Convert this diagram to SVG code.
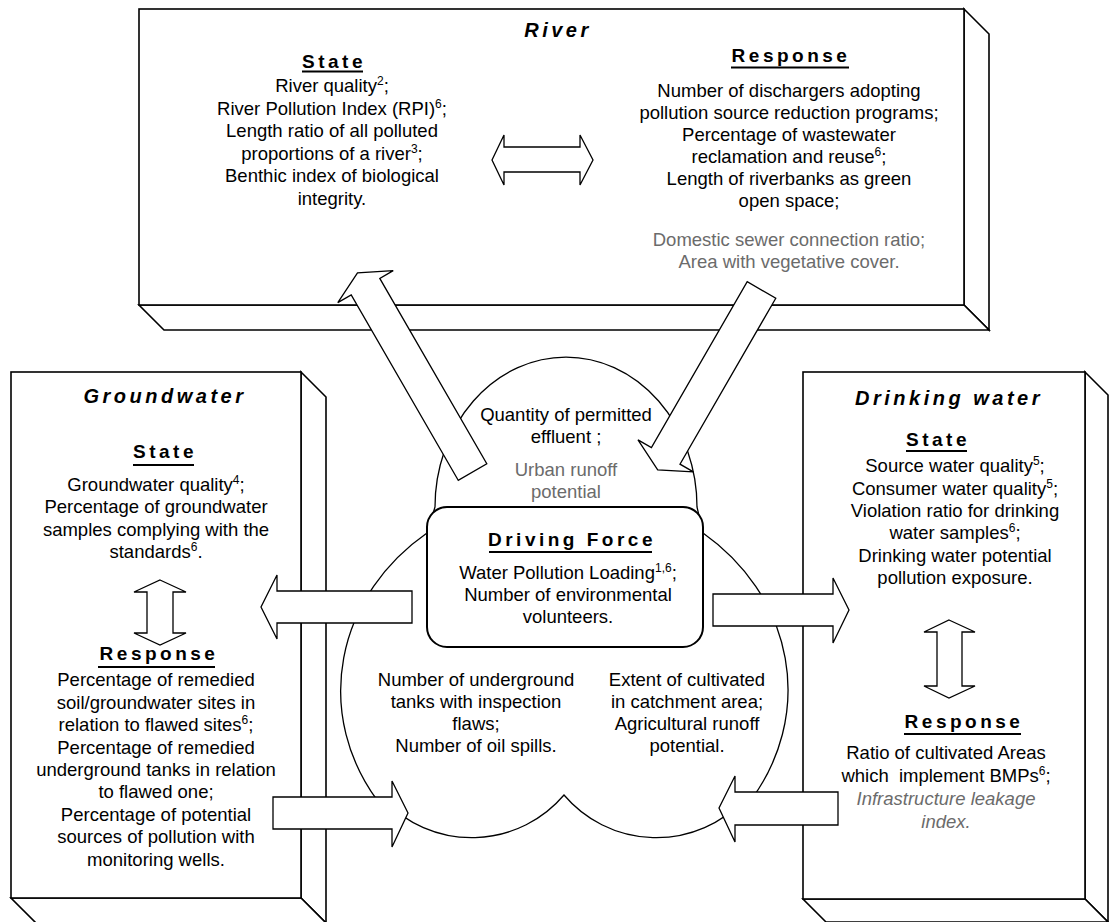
<svg xmlns="http://www.w3.org/2000/svg" width="1110" height="922" viewBox="0 0 1110 922">
<defs>
<style>
.box{fill:#fff;stroke:#000;stroke-width:1.6;stroke-linejoin:miter}
.arr{fill:#fff;stroke:#000;stroke-width:1.3;stroke-linejoin:miter}
.cloud{fill:#fff;stroke:#000;stroke-width:1.3}
.df{fill:#fff;stroke:#000;stroke-width:2}
text{font-family:"Liberation Sans",Arial,Helvetica,sans-serif;font-size:18.5px;text-anchor:middle;fill:#000}
.g{fill:#6b6b6b}
.gi{fill:#6b6b6b;font-style:italic}
.h{font-weight:bold;font-size:19px;letter-spacing:3.5px}
.ti{font-weight:bold;font-style:italic;font-size:20px;letter-spacing:3.5px}
.ul{stroke:#000;stroke-width:1.8}
.sup{font-size:12px}
</style>
<path id="blk" d="M0,-16.5 H1 V-32 L17,0 L1,32 V16.5 H0 Z"/>
</defs>

<g id="river">
<path class="box" d="M964,9 L989,34 L989,330 L964,305 Z"/>
<path class="box" d="M139,305 L964,305 L989,330 L164,330 Z"/>
<rect class="box" x="139" y="9" width="825" height="296"/>
<text class="ti" x="558" y="37">River</text>
<text class="h" x="334" y="68">State</text>
<line class="ul" x1="302" y1="71.5" x2="363" y2="71.5"/>
<text x="332" y="92">River quality<tspan class="sup" dy="-7">2</tspan><tspan dy="7">;</tspan></text>
<text x="332" y="114.5">River Pollution Index (RPI)<tspan class="sup" dy="-7">6</tspan><tspan dy="7">;</tspan></text>
<text x="332" y="137">Length ratio of all polluted</text>
<text x="332" y="159.5">proportions of a river<tspan class="sup" dy="-7">3</tspan><tspan dy="7">;</tspan></text>
<text x="332" y="182">Benthic index of biological</text>
<text x="332" y="204.5">integrity.</text>
<text class="h" x="791" y="62">Response</text>
<line class="ul" x1="731" y1="67.5" x2="849" y2="67.5"/>
<text x="789" y="97">Number of dischargers adopting</text>
<text x="789" y="119">pollution source reduction programs;</text>
<text x="789" y="141">Percentage of wastewater</text>
<text x="789" y="163">reclamation and reuse<tspan class="sup" dy="-7">6</tspan><tspan dy="7">;</tspan></text>
<text x="789" y="185">Length of riverbanks as green</text>
<text x="789" y="207">open space;</text>
<text class="g" x="789" y="246">Domestic sewer connection ratio;</text>
<text class="g" x="789" y="268">Area with vegetative cover.</text>
<path class="arr" d="M492,160 L504,135 V147 H580 V135 L593,160 L580,185 V172 H504 V185 Z"/>
</g>

<g id="groundwater">
<path class="box" d="M301,372 L326,397 L326,923 L301,898 Z"/>
<path class="box" d="M11,898 L301,898 L326,923 L36,923 Z"/>
<rect class="box" x="11" y="372" width="290" height="526"/>
<text class="ti" x="165" y="403">Groundwater</text>
<text class="h" x="165" y="458">State</text>
<line class="ul" x1="133" y1="465" x2="194" y2="465"/>
<text x="156" y="491">Groundwater quality<tspan class="sup" dy="-7">4</tspan><tspan dy="7">;</tspan></text>
<text x="156" y="513">Percentage of groundwater</text>
<text x="156" y="536">samples complying with the</text>
<text x="156" y="558">standards<tspan class="sup" dy="-7">6</tspan><tspan dy="7">.</tspan></text>
<path class="arr" d="M160,580 L186,592 H173 V633 H186 L160,645 L134,633 H147 V592 H134 Z"/>
<text class="h" x="159" y="660">Response</text>
<line class="ul" x1="98" y1="667" x2="215" y2="667"/>
<text x="156" y="686">Percentage of remedied</text>
<text x="156" y="709">soil/groundwater sites in</text>
<text x="156" y="731">relation to flawed sites<tspan class="sup" dy="-7">6</tspan><tspan dy="7">;</tspan></text>
<text x="156" y="754">Percentage of remedied</text>
<text x="156" y="776">underground tanks in relation</text>
<text x="156" y="798">to flawed one;</text>
<text x="156" y="821">Percentage of potential</text>
<text x="156" y="843">sources of pollution with</text>
<text x="156" y="866">monitoring wells.</text>
</g>

<g id="drinking">
<path class="box" d="M1085,372 L1108,395 L1108,922 L1085,899 Z"/>
<path class="box" d="M803,899 L1085,899 L1108,922 L826,922 Z"/>
<rect class="box" x="803" y="372" width="282" height="527"/>
<text class="ti" x="949" y="405">Drinking water</text>
<text class="h" x="938" y="446">State</text>
<line class="ul" x1="906" y1="451" x2="967" y2="451"/>
<text x="955" y="472">Source water quality<tspan class="sup" dy="-7">5</tspan><tspan dy="7">;</tspan></text>
<text x="955" y="495">Consumer water quality<tspan class="sup" dy="-7">5</tspan><tspan dy="7">;</tspan></text>
<text x="955" y="517">Violation ratio for drinking</text>
<text x="955" y="539">water samples<tspan class="sup" dy="-7">6</tspan><tspan dy="7">;</tspan></text>
<text x="955" y="562">Drinking water potential</text>
<text x="955" y="584">pollution exposure.</text>
<path class="arr" d="M949,620 L975,632 H962 V686 H975 L949,698 L924,686 H937 V632 H924 Z"/>
<text class="h" x="964" y="728">Response</text>
<line class="ul" x1="904" y1="734" x2="1021" y2="734"/>
<text x="946" y="759">Ratio of cultivated Areas</text>
<text x="946" y="782" xml:space="preserve">which  implement BMPs<tspan class="sup" dy="-7">6</tspan><tspan dy="7">;</tspan></text>
<text class="gi" x="946" y="805">Infrastructure leakage</text>
<text class="gi" x="946" y="828">index.</text>
</g>

<g id="cloud">
<path class="cloud" d="M435,507 A131,150 0 0 1 697,507 L703,533 A224,200 0 0 1 751,800 L744,800 A121,121 0 0 1 564,795 A121,121 0 0 1 384,800 L377,800 A224,200 0 0 1 427,533 Z"/>
<text x="566" y="421">Quantity of permitted</text>
<text x="566" y="443">effluent ;</text>
<text class="g" x="566" y="476">Urban runoff</text>
<text class="g" x="566" y="498">potential</text>
<text x="476" y="686">Number of underground</text>
<text x="476" y="708">tanks with inspection</text>
<text x="476" y="730">flaws;</text>
<text x="476" y="752">Number of oil spills.</text>
<text x="687" y="686">Extent of cultivated</text>
<text x="687" y="708">in catchment area;</text>
<text x="687" y="730">Agricultural runoff</text>
<text x="687" y="752">potential.</text>
</g>

<g id="driving-force">
<rect class="df" x="427" y="507" width="276" height="140" rx="20" ry="20"/>
<text class="h" x="572" y="546">Driving Force</text>
<line class="ul" x1="489" y1="552" x2="652" y2="552"/>
<text x="568" y="579">Water Pollution Loading<tspan class="sup" dy="-7">1,6</tspan><tspan dy="7">;</tspan></text>
<text x="568" y="601">Number of environmental</text>
<text x="568" y="623">volunteers.</text>
</g>

<g id="connectors">
<path class="arr" transform="translate(472.5,472) rotate(-120)" d="M0,-16.5 H214 V-32 L230,0 L214,32 V16.5 H0 Z"/>
<path class="arr" transform="translate(761.5,290) rotate(120)" d="M0,-16.5 H191.6 V-32 L207.6,0 L191.6,32 V16.5 H0 Z"/>
<path class="arr" d="M412,591 H277 V575 L261,607 L277,639 V623 H412 Z"/>
<path class="arr" d="M713,594 H833 V578 L849,610 L833,643 V626 H713 Z"/>
<path class="arr" d="M273,797 H392 V781 L408,813 L392,847 V829 H273 Z"/>
<path class="arr" d="M838,792 H735 V776 L719,808 L735,842 V825 H838 Z"/>
</g>
</svg>
